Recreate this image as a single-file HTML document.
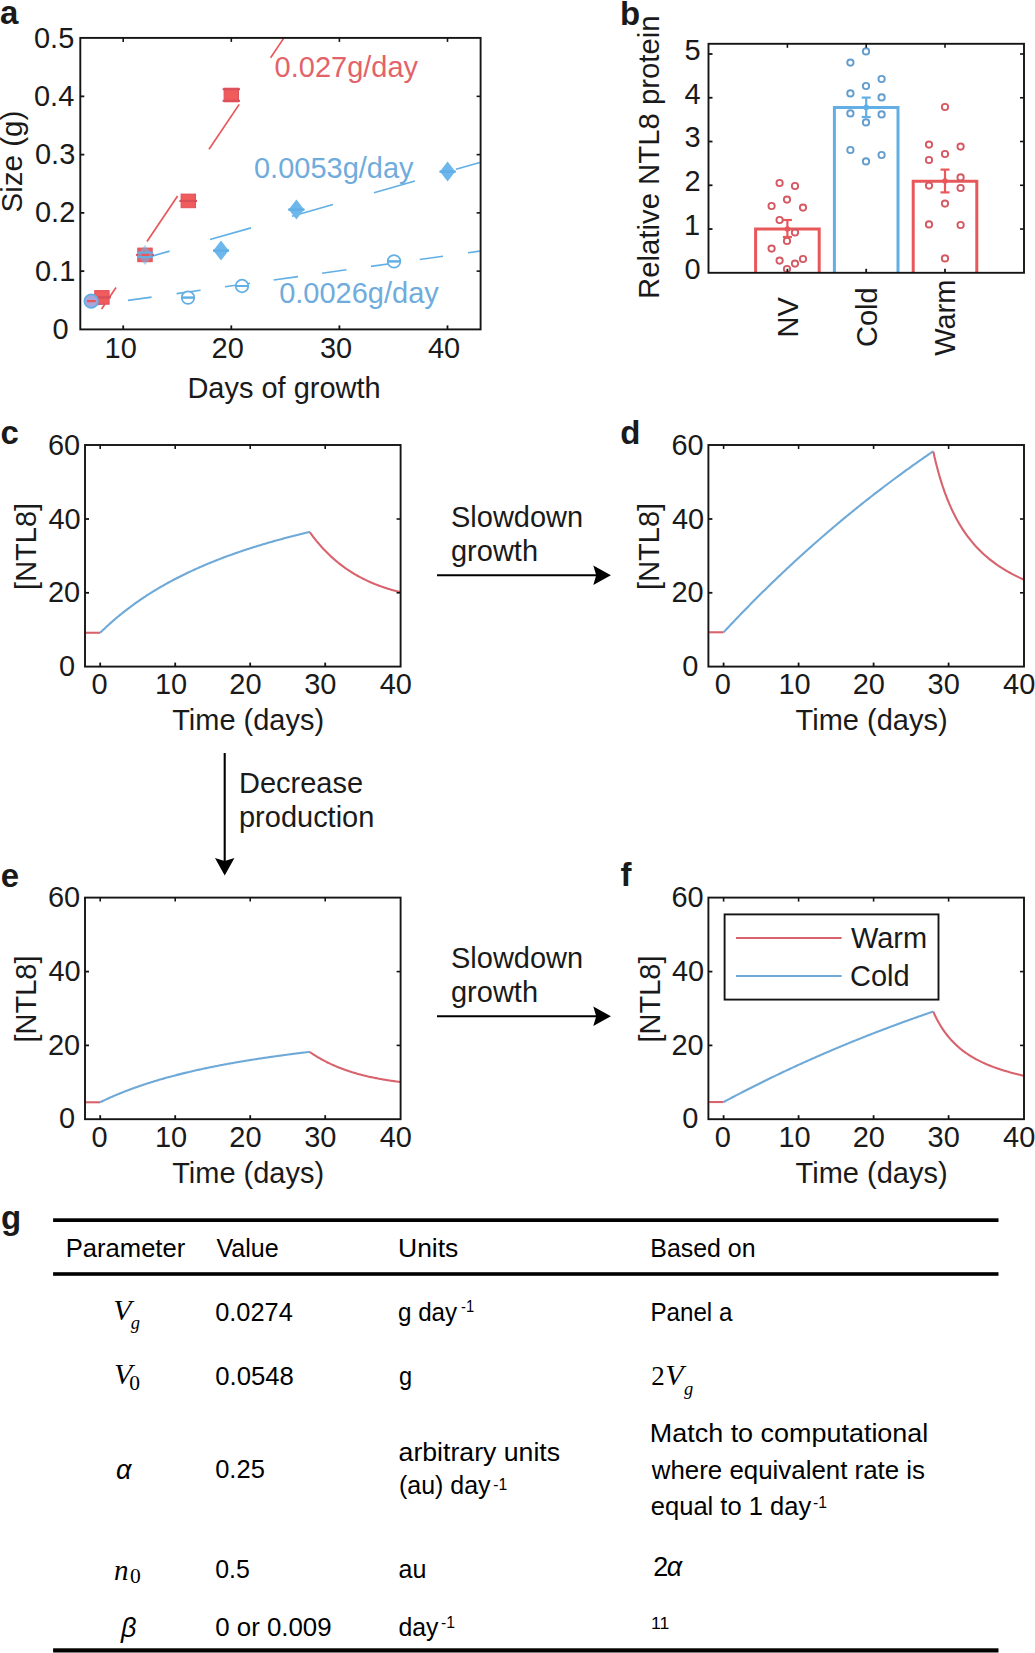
<!DOCTYPE html>
<html><head><meta charset="utf-8"><style>
html,body{margin:0;padding:0;background:#fff;}
body{width:1035px;height:1653px;overflow:hidden;font-family:"Liberation Sans",sans-serif;}
svg{display:block;position:absolute;left:0;top:0;}
</style></head><body>
<svg width="1035" height="1653" viewBox="0 0 1035 1653">
<rect x="0" y="0" width="1035" height="1653" fill="#fff"/>
<line x1="101.60" y1="308.97" x2="116.00" y2="287.56" stroke="#E8585B" stroke-width="1.7" />
<line x1="147.00" y1="241.47" x2="177.60" y2="195.97" stroke="#E8585B" stroke-width="1.7" />
<line x1="209.00" y1="149.28" x2="239.20" y2="104.37" stroke="#E8585B" stroke-width="1.7" />
<line x1="270.60" y1="57.68" x2="283.91" y2="37.90" stroke="#E8585B" stroke-width="1.7" />
<line x1="145.00" y1="258.16" x2="169.60" y2="251.14" stroke="#62AFE6" stroke-width="1.6" />
<line x1="210.00" y1="239.60" x2="251.00" y2="227.89" stroke="#62AFE6" stroke-width="1.6" />
<line x1="292.00" y1="216.18" x2="333.00" y2="204.47" stroke="#62AFE6" stroke-width="1.6" />
<line x1="374.00" y1="192.76" x2="415.00" y2="181.05" stroke="#62AFE6" stroke-width="1.6" />
<line x1="456.00" y1="169.34" x2="479.80" y2="162.55" stroke="#62AFE6" stroke-width="1.6" />
<line x1="91.00" y1="305.58" x2="103.60" y2="303.82" stroke="#62AFE6" stroke-width="1.6" />
<line x1="128.00" y1="300.40" x2="151.60" y2="297.10" stroke="#62AFE6" stroke-width="1.6" />
<line x1="176.60" y1="293.60" x2="200.60" y2="290.24" stroke="#62AFE6" stroke-width="1.6" />
<line x1="225.00" y1="286.82" x2="250.00" y2="283.32" stroke="#62AFE6" stroke-width="1.6" />
<line x1="273.60" y1="280.02" x2="298.00" y2="276.60" stroke="#62AFE6" stroke-width="1.6" />
<line x1="322.00" y1="273.24" x2="346.40" y2="269.82" stroke="#62AFE6" stroke-width="1.6" />
<line x1="371.00" y1="266.38" x2="395.00" y2="263.02" stroke="#62AFE6" stroke-width="1.6" />
<line x1="419.70" y1="259.56" x2="443.00" y2="256.30" stroke="#62AFE6" stroke-width="1.6" />
<line x1="468.00" y1="252.80" x2="479.80" y2="251.15" stroke="#62AFE6" stroke-width="1.6" />
<path d="M221.00,240.60 L228.70,250.60 L221.00,260.60 L213.30,250.60 Z" stroke="none" stroke-width="1.5" fill="#6DB7EC" fill-opacity="1.0"/>
<line x1="213.00" y1="250.60" x2="229.00" y2="250.60" stroke="#62AFE6" stroke-width="2.0" />
<line x1="213.00" y1="250.60" x2="229.00" y2="250.60" stroke="#62AFE6" stroke-width="2.0" />
<path d="M296.40,199.60 L304.10,209.60 L296.40,219.60 L288.70,209.60 Z" stroke="none" stroke-width="1.5" fill="#6DB7EC" fill-opacity="1.0"/>
<line x1="288.40" y1="209.60" x2="304.40" y2="209.60" stroke="#62AFE6" stroke-width="2.0" />
<line x1="288.40" y1="209.60" x2="304.40" y2="209.60" stroke="#62AFE6" stroke-width="2.0" />
<path d="M447.60,161.60 L455.30,171.60 L447.60,181.60 L439.90,171.60 Z" stroke="none" stroke-width="1.5" fill="#6DB7EC" fill-opacity="1.0"/>
<line x1="439.60" y1="171.60" x2="455.60" y2="171.60" stroke="#62AFE6" stroke-width="2.0" />
<line x1="439.60" y1="171.60" x2="455.60" y2="171.60" stroke="#62AFE6" stroke-width="2.0" />
<circle cx="188.00" cy="297.60" r="6.30" fill="#fff" stroke="#62AFE6" stroke-width="1.7" />
<line x1="182.00" y1="297.60" x2="194.00" y2="297.60" stroke="#62AFE6" stroke-width="2.0" />
<line x1="182.00" y1="297.60" x2="194.00" y2="297.60" stroke="#62AFE6" stroke-width="2.0" />
<circle cx="242.00" cy="286.00" r="6.30" fill="#fff" stroke="#62AFE6" stroke-width="1.7" />
<line x1="236.00" y1="286.00" x2="248.00" y2="286.00" stroke="#62AFE6" stroke-width="2.0" />
<line x1="236.00" y1="286.00" x2="248.00" y2="286.00" stroke="#62AFE6" stroke-width="2.0" />
<circle cx="394.00" cy="261.40" r="6.30" fill="#fff" stroke="#62AFE6" stroke-width="1.7" />
<line x1="388.00" y1="261.40" x2="400.00" y2="261.40" stroke="#62AFE6" stroke-width="2.0" />
<line x1="388.00" y1="261.40" x2="400.00" y2="261.40" stroke="#62AFE6" stroke-width="2.0" />
<rect x="94.70" y="290.60" width="14.40" height="13.60" fill="#F05B5B" stroke="#E0505A" stroke-width="1.0" />
<line x1="93.20" y1="297.40" x2="110.60" y2="297.40" stroke="#D9505A" stroke-width="2.0" />
<line x1="93.20" y1="297.40" x2="110.60" y2="297.40" stroke="#D9505A" stroke-width="2.0" />
<rect x="181.10" y="194.10" width="14.40" height="13.60" fill="#F05B5B" stroke="#E0505A" stroke-width="1.0" />
<line x1="179.60" y1="200.90" x2="197.00" y2="200.90" stroke="#D9505A" stroke-width="2.0" />
<line x1="179.60" y1="200.90" x2="197.00" y2="200.90" stroke="#D9505A" stroke-width="2.0" />
<line x1="231.30" y1="89.20" x2="231.30" y2="100.80" stroke="#D9505A" stroke-width="1.5" />
<rect x="224.10" y="88.20" width="14.40" height="13.60" fill="#F05B5B" stroke="#E0505A" stroke-width="1.0" />
<line x1="222.60" y1="89.20" x2="240.00" y2="89.20" stroke="#D9505A" stroke-width="2.0" />
<line x1="222.60" y1="100.80" x2="240.00" y2="100.80" stroke="#D9505A" stroke-width="2.0" />
<rect x="137.80" y="248.10" width="14.40" height="13.60" fill="#F05B5B" stroke="#E0505A" stroke-width="1.0" />
<line x1="136.30" y1="254.90" x2="153.70" y2="254.90" stroke="#D9505A" stroke-width="2.0" />
<line x1="136.30" y1="254.90" x2="153.70" y2="254.90" stroke="#D9505A" stroke-width="2.0" />
<path d="M145.00,244.90 L152.70,254.90 L145.00,264.90 L137.30,254.90 Z" stroke="none" stroke-width="1.5" fill="#6DB7EC" fill-opacity="0.55"/>
<line x1="137.00" y1="252.60" x2="153.00" y2="252.60" stroke="#62AFE6" stroke-width="2.0" />
<line x1="137.00" y1="257.20" x2="153.00" y2="257.20" stroke="#62AFE6" stroke-width="2.0" />
<line x1="141.60" y1="254.90" x2="149.00" y2="254.90" stroke="#E8585B" stroke-width="2.2" />
<circle cx="91.20" cy="301.10" r="6.80" fill="#A9A6DA" stroke="#62AFE6" stroke-width="1.8" />
<line x1="87.00" y1="301.10" x2="95.80" y2="301.10" stroke="#E8585B" stroke-width="2.2" />
<rect x="80.30" y="37.90" width="400.30" height="291.50" fill="none" stroke="#141414" stroke-width="1.9" />
<line x1="123.20" y1="329.40" x2="123.20" y2="325.40" stroke="#141414" stroke-width="1.8" />
<line x1="123.20" y1="37.90" x2="123.20" y2="41.90" stroke="#141414" stroke-width="1.6" />
<line x1="231.30" y1="329.40" x2="231.30" y2="325.40" stroke="#141414" stroke-width="1.8" />
<line x1="231.30" y1="37.90" x2="231.30" y2="41.90" stroke="#141414" stroke-width="1.6" />
<line x1="339.40" y1="329.40" x2="339.40" y2="325.40" stroke="#141414" stroke-width="1.8" />
<line x1="339.40" y1="37.90" x2="339.40" y2="41.90" stroke="#141414" stroke-width="1.6" />
<line x1="447.50" y1="329.40" x2="447.50" y2="325.40" stroke="#141414" stroke-width="1.8" />
<line x1="447.50" y1="37.90" x2="447.50" y2="41.90" stroke="#141414" stroke-width="1.6" />
<line x1="80.30" y1="271.14" x2="84.30" y2="271.14" stroke="#141414" stroke-width="1.8" />
<line x1="480.60" y1="271.14" x2="476.60" y2="271.14" stroke="#141414" stroke-width="1.6" />
<line x1="80.30" y1="212.88" x2="84.30" y2="212.88" stroke="#141414" stroke-width="1.8" />
<line x1="480.60" y1="212.88" x2="476.60" y2="212.88" stroke="#141414" stroke-width="1.6" />
<line x1="80.30" y1="154.62" x2="84.30" y2="154.62" stroke="#141414" stroke-width="1.8" />
<line x1="480.60" y1="154.62" x2="476.60" y2="154.62" stroke="#141414" stroke-width="1.6" />
<line x1="80.30" y1="96.36" x2="84.30" y2="96.36" stroke="#141414" stroke-width="1.8" />
<line x1="480.60" y1="96.36" x2="476.60" y2="96.36" stroke="#141414" stroke-width="1.6" />
<path d="M755.60,272.80 L755.60,229.04 L819.20,229.04 L819.20,272.80" stroke="#E8585B" stroke-width="3.0" fill="none" stroke-linejoin="miter"/>
<path d="M834.40,272.80 L834.40,107.61 L898.00,107.61 L898.00,272.80" stroke="#62AFE6" stroke-width="3.0" fill="none" stroke-linejoin="miter"/>
<path d="M913.20,272.80 L913.20,181.34 L976.80,181.34 L976.80,272.80" stroke="#E8585B" stroke-width="3.0" fill="none" stroke-linejoin="miter"/>
<circle cx="779.60" cy="183.00" r="3.15" fill="none" stroke="#D55963" stroke-width="1.9" />
<circle cx="795.00" cy="186.00" r="3.15" fill="none" stroke="#D55963" stroke-width="1.9" />
<circle cx="787.00" cy="199.60" r="3.15" fill="none" stroke="#D55963" stroke-width="1.9" />
<circle cx="771.60" cy="206.00" r="3.15" fill="none" stroke="#D55963" stroke-width="1.9" />
<circle cx="803.00" cy="207.60" r="3.15" fill="none" stroke="#D55963" stroke-width="1.9" />
<circle cx="779.60" cy="220.00" r="3.15" fill="none" stroke="#D55963" stroke-width="1.9" />
<circle cx="795.00" cy="232.40" r="3.15" fill="none" stroke="#D55963" stroke-width="1.9" />
<circle cx="787.00" cy="241.00" r="3.15" fill="none" stroke="#D55963" stroke-width="1.9" />
<circle cx="771.60" cy="248.60" r="3.15" fill="none" stroke="#D55963" stroke-width="1.9" />
<circle cx="779.60" cy="260.60" r="3.15" fill="none" stroke="#D55963" stroke-width="1.9" />
<circle cx="795.00" cy="263.60" r="3.15" fill="none" stroke="#D55963" stroke-width="1.9" />
<circle cx="803.00" cy="259.00" r="3.15" fill="none" stroke="#D55963" stroke-width="1.9" />
<circle cx="787.00" cy="269.00" r="3.15" fill="none" stroke="#D55963" stroke-width="1.9" />
<circle cx="945.00" cy="107.00" r="3.15" fill="none" stroke="#D55963" stroke-width="1.9" />
<circle cx="929.00" cy="144.60" r="3.15" fill="none" stroke="#D55963" stroke-width="1.9" />
<circle cx="960.60" cy="146.60" r="3.15" fill="none" stroke="#D55963" stroke-width="1.9" />
<circle cx="945.00" cy="154.00" r="3.15" fill="none" stroke="#D55963" stroke-width="1.9" />
<circle cx="929.00" cy="160.00" r="3.15" fill="none" stroke="#D55963" stroke-width="1.9" />
<circle cx="960.60" cy="177.40" r="3.15" fill="none" stroke="#D55963" stroke-width="1.9" />
<circle cx="929.00" cy="185.60" r="3.15" fill="none" stroke="#D55963" stroke-width="1.9" />
<circle cx="960.60" cy="188.00" r="3.15" fill="none" stroke="#D55963" stroke-width="1.9" />
<circle cx="945.00" cy="203.60" r="3.15" fill="none" stroke="#D55963" stroke-width="1.9" />
<circle cx="929.00" cy="224.40" r="3.15" fill="none" stroke="#D55963" stroke-width="1.9" />
<circle cx="960.60" cy="225.00" r="3.15" fill="none" stroke="#D55963" stroke-width="1.9" />
<circle cx="945.00" cy="258.40" r="3.15" fill="none" stroke="#D55963" stroke-width="1.9" />
<circle cx="866.00" cy="51.40" r="3.15" fill="none" stroke="#639DCD" stroke-width="1.9" />
<circle cx="850.40" cy="62.60" r="3.15" fill="none" stroke="#639DCD" stroke-width="1.9" />
<circle cx="881.60" cy="79.00" r="3.15" fill="none" stroke="#639DCD" stroke-width="1.9" />
<circle cx="866.00" cy="86.00" r="3.15" fill="none" stroke="#639DCD" stroke-width="1.9" />
<circle cx="850.40" cy="93.40" r="3.15" fill="none" stroke="#639DCD" stroke-width="1.9" />
<circle cx="881.60" cy="97.40" r="3.15" fill="none" stroke="#639DCD" stroke-width="1.9" />
<circle cx="850.40" cy="113.40" r="3.15" fill="none" stroke="#639DCD" stroke-width="1.9" />
<circle cx="881.60" cy="114.40" r="3.15" fill="none" stroke="#639DCD" stroke-width="1.9" />
<circle cx="866.00" cy="122.40" r="3.15" fill="none" stroke="#639DCD" stroke-width="1.9" />
<circle cx="850.40" cy="150.00" r="3.15" fill="none" stroke="#639DCD" stroke-width="1.9" />
<circle cx="881.60" cy="155.00" r="3.15" fill="none" stroke="#639DCD" stroke-width="1.9" />
<circle cx="866.00" cy="161.40" r="3.15" fill="none" stroke="#639DCD" stroke-width="1.9" />
<line x1="787.40" y1="220.00" x2="787.40" y2="237.00" stroke="#E8585B" stroke-width="2.2" />
<line x1="782.90" y1="220.00" x2="791.90" y2="220.00" stroke="#E8585B" stroke-width="2.2" />
<line x1="782.90" y1="237.00" x2="791.90" y2="237.00" stroke="#E8585B" stroke-width="2.2" />
<circle cx="787.40" cy="229.00" r="2.80" fill="#E8585B" stroke="none" stroke-width="1.5" />
<line x1="866.20" y1="97.60" x2="866.20" y2="117.00" stroke="#62AFE6" stroke-width="2.2" />
<line x1="861.70" y1="97.60" x2="870.70" y2="97.60" stroke="#62AFE6" stroke-width="2.2" />
<line x1="861.70" y1="117.00" x2="870.70" y2="117.00" stroke="#62AFE6" stroke-width="2.2" />
<circle cx="866.20" cy="107.40" r="2.80" fill="#62AFE6" stroke="none" stroke-width="1.5" />
<line x1="945.00" y1="169.60" x2="945.00" y2="192.40" stroke="#E8585B" stroke-width="2.2" />
<line x1="940.50" y1="169.60" x2="949.50" y2="169.60" stroke="#E8585B" stroke-width="2.2" />
<line x1="940.50" y1="192.40" x2="949.50" y2="192.40" stroke="#E8585B" stroke-width="2.2" />
<circle cx="945.00" cy="181.00" r="2.80" fill="#E8585B" stroke="none" stroke-width="1.5" />
<rect x="708.50" y="43.80" width="315.50" height="229.00" fill="none" stroke="#141414" stroke-width="1.9" />
<line x1="787.40" y1="272.80" x2="787.40" y2="268.80" stroke="#141414" stroke-width="1.8" />
<line x1="787.40" y1="43.80" x2="787.40" y2="47.80" stroke="#141414" stroke-width="1.6" />
<line x1="866.20" y1="272.80" x2="866.20" y2="268.80" stroke="#141414" stroke-width="1.8" />
<line x1="866.20" y1="43.80" x2="866.20" y2="47.80" stroke="#141414" stroke-width="1.6" />
<line x1="945.00" y1="272.80" x2="945.00" y2="268.80" stroke="#141414" stroke-width="1.8" />
<line x1="945.00" y1="43.80" x2="945.00" y2="47.80" stroke="#141414" stroke-width="1.6" />
<line x1="708.50" y1="229.04" x2="712.50" y2="229.04" stroke="#141414" stroke-width="1.8" />
<line x1="1024.00" y1="229.04" x2="1020.00" y2="229.04" stroke="#141414" stroke-width="1.6" />
<line x1="708.50" y1="185.28" x2="712.50" y2="185.28" stroke="#141414" stroke-width="1.8" />
<line x1="1024.00" y1="185.28" x2="1020.00" y2="185.28" stroke="#141414" stroke-width="1.6" />
<line x1="708.50" y1="141.52" x2="712.50" y2="141.52" stroke="#141414" stroke-width="1.8" />
<line x1="1024.00" y1="141.52" x2="1020.00" y2="141.52" stroke="#141414" stroke-width="1.6" />
<line x1="708.50" y1="97.76" x2="712.50" y2="97.76" stroke="#141414" stroke-width="1.8" />
<line x1="1024.00" y1="97.76" x2="1020.00" y2="97.76" stroke="#141414" stroke-width="1.6" />
<line x1="708.50" y1="54.00" x2="712.50" y2="54.00" stroke="#141414" stroke-width="1.8" />
<line x1="1024.00" y1="54.00" x2="1020.00" y2="54.00" stroke="#141414" stroke-width="1.6" />
<line x1="85.80" y1="632.76" x2="100.20" y2="632.76" stroke="#D8636D" stroke-width="2.1" />
<path d="M100.20,632.76 L101.20,631.78 L102.20,630.81 L103.20,629.85 L104.20,628.89 L105.20,627.95 L106.20,627.02 L107.20,626.09 L108.20,625.18 L109.20,624.27 L110.20,623.37 L111.20,622.48 L112.20,621.60 L113.20,620.72 L114.20,619.86 L115.20,619.00 L116.20,618.15 L117.20,617.31 L118.20,616.48 L119.20,615.65 L120.20,614.83 L121.20,614.02 L122.20,613.22 L123.20,612.42 L124.20,611.63 L125.20,610.85 L126.20,610.07 L127.20,609.30 L128.20,608.54 L129.20,607.79 L130.20,607.04 L131.20,606.30 L132.20,605.56 L133.20,604.83 L134.20,604.11 L135.20,603.39 L136.20,602.68 L137.20,601.98 L138.20,601.28 L139.20,600.58 L140.20,599.90 L141.20,599.22 L142.20,598.54 L143.20,597.87 L144.20,597.20 L145.20,596.55 L146.20,595.89 L147.20,595.24 L148.20,594.60 L149.20,593.96 L150.20,593.33 L151.20,592.70 L152.20,592.08 L153.20,591.46 L154.20,590.85 L155.20,590.24 L156.20,589.63 L157.20,589.03 L158.20,588.44 L159.20,587.85 L160.20,587.26 L161.20,586.68 L162.20,586.11 L163.20,585.54 L164.20,584.97 L165.20,584.41 L166.20,583.85 L167.20,583.29 L168.20,582.74 L169.20,582.19 L170.20,581.65 L171.20,581.11 L172.20,580.58 L173.20,580.05 L174.20,579.52 L175.20,579.00 L176.20,578.48 L177.20,577.96 L178.20,577.45 L179.20,576.94 L180.20,576.44 L181.20,575.94 L182.20,575.44 L183.20,574.95 L184.20,574.46 L185.20,573.97 L186.20,573.49 L187.20,573.01 L188.20,572.53 L189.20,572.06 L190.20,571.59 L191.20,571.12 L192.20,570.66 L193.20,570.20 L194.20,569.74 L195.20,569.29 L196.20,568.84 L197.20,568.39 L198.20,567.94 L199.20,567.50 L200.20,567.06 L201.20,566.63 L202.20,566.19 L203.20,565.76 L204.20,565.34 L205.20,564.91 L206.20,564.49 L207.20,564.07 L208.20,563.65 L209.20,563.24 L210.20,562.83 L211.20,562.42 L212.20,562.01 L213.20,561.61 L214.20,561.21 L215.20,560.81 L216.20,560.42 L217.20,560.02 L218.20,559.63 L219.20,559.24 L220.20,558.86 L221.20,558.48 L222.20,558.09 L223.20,557.72 L224.20,557.34 L225.20,556.97 L226.20,556.59 L227.20,556.22 L228.20,555.86 L229.20,555.49 L230.20,555.13 L231.20,554.77 L232.20,554.41 L233.20,554.06 L234.20,553.70 L235.20,553.35 L236.20,553.00 L237.20,552.65 L238.20,552.31 L239.20,551.96 L240.20,551.62 L241.20,551.28 L242.20,550.94 L243.20,550.61 L244.20,550.28 L245.20,549.94 L246.20,549.61 L247.20,549.29 L248.20,548.96 L249.20,548.64 L250.20,548.31 L251.20,547.99 L252.20,547.67 L253.20,547.36 L254.20,547.04 L255.20,546.73 L256.20,546.42 L257.20,546.11 L258.20,545.80 L259.20,545.49 L260.20,545.19 L261.20,544.89 L262.20,544.59 L263.20,544.29 L264.20,543.99 L265.20,543.69 L266.20,543.40 L267.20,543.10 L268.20,542.81 L269.20,542.52 L270.20,542.24 L271.20,541.95 L272.20,541.66 L273.20,541.38 L274.20,541.10 L275.20,540.82 L276.20,540.54 L277.20,540.26 L278.20,539.98 L279.20,539.71 L280.20,539.44 L281.20,539.16 L282.20,538.89 L283.20,538.63 L284.20,538.36 L285.20,538.09 L286.20,537.83 L287.20,537.56 L288.20,537.30 L289.20,537.04 L290.20,536.78 L291.20,536.52 L292.20,536.27 L293.20,536.01 L294.20,535.76 L295.20,535.50 L296.20,535.25 L297.20,535.00 L298.20,534.75 L299.20,534.51 L300.20,534.26 L301.20,534.01 L302.20,533.77 L303.20,533.53 L304.20,533.28 L305.20,533.04 L306.20,532.81 L307.20,532.57 L308.20,532.33 L309.20,532.09 L310.00,532.20" stroke="#6FA9D8" stroke-width="2.1" fill="none" stroke-linejoin="round" stroke-linecap="butt"/>
<path d="M310.00,532.20 L311.00,533.86 L312.00,535.21 L313.00,536.53 L314.00,537.82 L315.00,539.09 L316.00,540.34 L317.00,541.56 L318.00,542.76 L319.00,543.94 L320.00,545.09 L321.00,546.23 L322.00,547.34 L323.00,548.43 L324.00,549.50 L325.00,550.55 L326.00,551.58 L327.00,552.59 L328.00,553.58 L329.00,554.55 L330.00,555.51 L331.00,556.45 L332.00,557.37 L333.00,558.27 L334.00,559.15 L335.00,560.02 L336.00,560.87 L337.00,561.71 L338.00,562.53 L339.00,563.33 L340.00,564.12 L341.00,564.90 L342.00,565.66 L343.00,566.40 L344.00,567.13 L345.00,567.85 L346.00,568.56 L347.00,569.25 L348.00,569.92 L349.00,570.59 L350.00,571.24 L351.00,571.88 L352.00,572.51 L353.00,573.13 L354.00,573.73 L355.00,574.32 L356.00,574.91 L357.00,575.48 L358.00,576.04 L359.00,576.59 L360.00,577.13 L361.00,577.66 L362.00,578.18 L363.00,578.69 L364.00,579.18 L365.00,579.68 L366.00,580.16 L367.00,580.63 L368.00,581.09 L369.00,581.55 L370.00,581.99 L371.00,582.43 L372.00,582.86 L373.00,583.28 L374.00,583.69 L375.00,584.10 L376.00,584.50 L377.00,584.89 L378.00,585.27 L379.00,585.65 L380.00,586.01 L381.00,586.38 L382.00,586.73 L383.00,587.08 L384.00,587.42 L385.00,587.76 L386.00,588.08 L387.00,588.41 L388.00,588.72 L389.00,589.03 L390.00,589.34 L391.00,589.64 L392.00,589.93 L393.00,590.22 L394.00,590.50 L395.00,590.78 L396.00,591.05 L397.00,591.32 L398.00,591.58 L399.00,591.84 L400.00,592.09 L400.60,592.24" stroke="#D8636D" stroke-width="2.1" fill="none" stroke-linejoin="round" stroke-linecap="butt"/>
<rect x="85.00" y="445.00" width="315.60" height="221.60" fill="none" stroke="#141414" stroke-width="1.9" />
<line x1="100.20" y1="666.60" x2="100.20" y2="662.60" stroke="#141414" stroke-width="1.8" />
<line x1="100.20" y1="445.00" x2="100.20" y2="449.00" stroke="#141414" stroke-width="1.6" />
<line x1="175.20" y1="666.60" x2="175.20" y2="662.60" stroke="#141414" stroke-width="1.8" />
<line x1="175.20" y1="445.00" x2="175.20" y2="449.00" stroke="#141414" stroke-width="1.6" />
<line x1="250.20" y1="666.60" x2="250.20" y2="662.60" stroke="#141414" stroke-width="1.8" />
<line x1="250.20" y1="445.00" x2="250.20" y2="449.00" stroke="#141414" stroke-width="1.6" />
<line x1="325.20" y1="666.60" x2="325.20" y2="662.60" stroke="#141414" stroke-width="1.8" />
<line x1="325.20" y1="445.00" x2="325.20" y2="449.00" stroke="#141414" stroke-width="1.6" />
<line x1="85.00" y1="592.80" x2="89.00" y2="592.80" stroke="#141414" stroke-width="1.8" />
<line x1="400.60" y1="592.80" x2="396.60" y2="592.80" stroke="#141414" stroke-width="1.6" />
<line x1="85.00" y1="519.00" x2="89.00" y2="519.00" stroke="#141414" stroke-width="1.8" />
<line x1="400.60" y1="519.00" x2="396.60" y2="519.00" stroke="#141414" stroke-width="1.6" />
<line x1="709.20" y1="632.28" x2="723.60" y2="632.28" stroke="#D8636D" stroke-width="2.1" />
<path d="M723.60,632.28 L724.60,631.21 L725.60,630.14 L726.60,629.07 L727.60,628.01 L728.60,626.94 L729.60,625.88 L730.60,624.82 L731.60,623.76 L732.60,622.71 L733.60,621.66 L734.60,620.61 L735.60,619.56 L736.60,618.51 L737.60,617.47 L738.60,616.43 L739.60,615.39 L740.60,614.35 L741.60,613.32 L742.60,612.29 L743.60,611.26 L744.60,610.23 L745.60,609.20 L746.60,608.18 L747.60,607.16 L748.60,606.14 L749.60,605.12 L750.60,604.11 L751.60,603.10 L752.60,602.09 L753.60,601.08 L754.60,600.07 L755.60,599.07 L756.60,598.07 L757.60,597.07 L758.60,596.07 L759.60,595.08 L760.60,594.09 L761.60,593.10 L762.60,592.11 L763.60,591.12 L764.60,590.14 L765.60,589.16 L766.60,588.18 L767.60,587.20 L768.60,586.22 L769.60,585.25 L770.60,584.28 L771.60,583.31 L772.60,582.34 L773.60,581.38 L774.60,580.41 L775.60,579.45 L776.60,578.49 L777.60,577.54 L778.60,576.58 L779.60,575.63 L780.60,574.68 L781.60,573.73 L782.60,572.78 L783.60,571.84 L784.60,570.90 L785.60,569.96 L786.60,569.02 L787.60,568.08 L788.60,567.15 L789.60,566.22 L790.60,565.29 L791.60,564.36 L792.60,563.43 L793.60,562.51 L794.60,561.58 L795.60,560.66 L796.60,559.75 L797.60,558.83 L798.60,557.92 L799.60,557.00 L800.60,556.09 L801.60,555.19 L802.60,554.28 L803.60,553.37 L804.60,552.47 L805.60,551.57 L806.60,550.67 L807.60,549.78 L808.60,548.88 L809.60,547.99 L810.60,547.10 L811.60,546.21 L812.60,545.32 L813.60,544.44 L814.60,543.55 L815.60,542.67 L816.60,541.79 L817.60,540.92 L818.60,540.04 L819.60,539.17 L820.60,538.30 L821.60,537.43 L822.60,536.56 L823.60,535.69 L824.60,534.83 L825.60,533.97 L826.60,533.11 L827.60,532.25 L828.60,531.39 L829.60,530.54 L830.60,529.68 L831.60,528.83 L832.60,527.98 L833.60,527.13 L834.60,526.29 L835.60,525.45 L836.60,524.60 L837.60,523.76 L838.60,522.92 L839.60,522.09 L840.60,521.25 L841.60,520.42 L842.60,519.59 L843.60,518.76 L844.60,517.93 L845.60,517.11 L846.60,516.28 L847.60,515.46 L848.60,514.64 L849.60,513.82 L850.60,513.01 L851.60,512.19 L852.60,511.38 L853.60,510.57 L854.60,509.76 L855.60,508.95 L856.60,508.14 L857.60,507.34 L858.60,506.53 L859.60,505.73 L860.60,504.93 L861.60,504.14 L862.60,503.34 L863.60,502.55 L864.60,501.75 L865.60,500.96 L866.60,500.17 L867.60,499.39 L868.60,498.60 L869.60,497.82 L870.60,497.03 L871.60,496.25 L872.60,495.48 L873.60,494.70 L874.60,493.92 L875.60,493.15 L876.60,492.38 L877.60,491.61 L878.60,490.84 L879.60,490.07 L880.60,489.30 L881.60,488.54 L882.60,487.78 L883.60,487.02 L884.60,486.26 L885.60,485.50 L886.60,484.75 L887.60,483.99 L888.60,483.24 L889.60,482.49 L890.60,481.74 L891.60,480.99 L892.60,480.25 L893.60,479.50 L894.60,478.76 L895.60,478.02 L896.60,477.28 L897.60,476.54 L898.60,475.81 L899.60,475.07 L900.60,474.34 L901.60,473.61 L902.60,472.88 L903.60,472.15 L904.60,471.42 L905.60,470.70 L906.60,469.97 L907.60,469.25 L908.60,468.53 L909.60,467.81 L910.60,467.10 L911.60,466.38 L912.60,465.67 L913.60,464.95 L914.60,464.24 L915.60,463.53 L916.60,462.82 L917.60,462.12 L918.60,461.41 L919.60,460.71 L920.60,460.01 L921.60,459.31 L922.60,458.61 L923.60,457.91 L924.60,457.21 L925.60,456.52 L926.60,455.83 L927.60,455.14 L928.60,454.45 L929.60,453.76 L930.60,453.07 L931.60,452.39 L932.60,451.70 L933.40,451.66" stroke="#6FA9D8" stroke-width="2.1" fill="none" stroke-linejoin="round" stroke-linecap="butt"/>
<path d="M933.40,451.66 L934.40,456.57 L935.40,460.76 L936.40,464.77 L937.40,468.60 L938.40,472.26 L939.40,475.77 L940.40,479.13 L941.40,482.35 L942.40,485.45 L943.40,488.42 L944.40,491.29 L945.40,494.04 L946.40,496.69 L947.40,499.25 L948.40,501.71 L949.40,504.09 L950.40,506.39 L951.40,508.60 L952.40,510.75 L953.40,512.82 L954.40,514.83 L955.40,516.78 L956.40,518.66 L957.40,520.49 L958.40,522.26 L959.40,523.98 L960.40,525.64 L961.40,527.26 L962.40,528.84 L963.40,530.37 L964.40,531.85 L965.40,533.30 L966.40,534.71 L967.40,536.08 L968.40,537.41 L969.40,538.71 L970.40,539.97 L971.40,541.21 L972.40,542.41 L973.40,543.59 L974.40,544.73 L975.40,545.85 L976.40,546.94 L977.40,548.00 L978.40,549.04 L979.40,550.06 L980.40,551.05 L981.40,552.03 L982.40,552.98 L983.40,553.90 L984.40,554.81 L985.40,555.70 L986.40,556.57 L987.40,557.42 L988.40,558.26 L989.40,559.08 L990.40,559.88 L991.40,560.66 L992.40,561.43 L993.40,562.18 L994.40,562.92 L995.40,563.65 L996.40,564.36 L997.40,565.05 L998.40,565.74 L999.40,566.41 L1000.40,567.07 L1001.40,567.71 L1002.40,568.35 L1003.40,568.97 L1004.40,569.58 L1005.40,570.19 L1006.40,570.78 L1007.40,571.36 L1008.40,571.93 L1009.40,572.49 L1010.40,573.04 L1011.40,573.58 L1012.40,574.12 L1013.40,574.64 L1014.40,575.16 L1015.40,575.66 L1016.40,576.16 L1017.40,576.65 L1018.40,577.14 L1019.40,577.61 L1020.40,578.08 L1021.40,578.54 L1022.40,579.00 L1023.40,579.44 L1023.90,579.67" stroke="#D8636D" stroke-width="2.1" fill="none" stroke-linejoin="round" stroke-linecap="butt"/>
<rect x="708.40" y="445.00" width="315.60" height="221.60" fill="none" stroke="#141414" stroke-width="1.9" />
<line x1="723.60" y1="666.60" x2="723.60" y2="662.60" stroke="#141414" stroke-width="1.8" />
<line x1="723.60" y1="445.00" x2="723.60" y2="449.00" stroke="#141414" stroke-width="1.6" />
<line x1="798.60" y1="666.60" x2="798.60" y2="662.60" stroke="#141414" stroke-width="1.8" />
<line x1="798.60" y1="445.00" x2="798.60" y2="449.00" stroke="#141414" stroke-width="1.6" />
<line x1="873.60" y1="666.60" x2="873.60" y2="662.60" stroke="#141414" stroke-width="1.8" />
<line x1="873.60" y1="445.00" x2="873.60" y2="449.00" stroke="#141414" stroke-width="1.6" />
<line x1="948.60" y1="666.60" x2="948.60" y2="662.60" stroke="#141414" stroke-width="1.8" />
<line x1="948.60" y1="445.00" x2="948.60" y2="449.00" stroke="#141414" stroke-width="1.6" />
<line x1="708.40" y1="592.80" x2="712.40" y2="592.80" stroke="#141414" stroke-width="1.8" />
<line x1="1024.00" y1="592.80" x2="1020.00" y2="592.80" stroke="#141414" stroke-width="1.6" />
<line x1="708.40" y1="519.00" x2="712.40" y2="519.00" stroke="#141414" stroke-width="1.8" />
<line x1="1024.00" y1="519.00" x2="1020.00" y2="519.00" stroke="#141414" stroke-width="1.6" />
<line x1="85.80" y1="1102.28" x2="100.20" y2="1102.28" stroke="#D8636D" stroke-width="2.1" />
<path d="M100.20,1102.28 L101.20,1101.79 L102.20,1101.30 L103.20,1100.82 L104.20,1100.35 L105.20,1099.88 L106.20,1099.41 L107.20,1098.95 L108.20,1098.49 L109.20,1098.03 L110.20,1097.58 L111.20,1097.14 L112.20,1096.70 L113.20,1096.26 L114.20,1095.83 L115.20,1095.40 L116.20,1094.98 L117.20,1094.56 L118.20,1094.14 L119.20,1093.73 L120.20,1093.32 L121.20,1092.91 L122.20,1092.51 L123.20,1092.11 L124.20,1091.72 L125.20,1091.32 L126.20,1090.94 L127.20,1090.55 L128.20,1090.17 L129.20,1089.79 L130.20,1089.42 L131.20,1089.05 L132.20,1088.68 L133.20,1088.32 L134.20,1087.95 L135.20,1087.60 L136.20,1087.24 L137.20,1086.89 L138.20,1086.54 L139.20,1086.19 L140.20,1085.85 L141.20,1085.51 L142.20,1085.17 L143.20,1084.83 L144.20,1084.50 L145.20,1084.17 L146.20,1083.85 L147.20,1083.52 L148.20,1083.20 L149.20,1082.88 L150.20,1082.56 L151.20,1082.25 L152.20,1081.94 L153.20,1081.63 L154.20,1081.32 L155.20,1081.02 L156.20,1080.72 L157.20,1080.42 L158.20,1080.12 L159.20,1079.82 L160.20,1079.53 L161.20,1079.24 L162.20,1078.95 L163.20,1078.67 L164.20,1078.38 L165.20,1078.10 L166.20,1077.82 L167.20,1077.55 L168.20,1077.27 L169.20,1077.00 L170.20,1076.73 L171.20,1076.46 L172.20,1076.19 L173.20,1075.92 L174.20,1075.66 L175.20,1075.40 L176.20,1075.14 L177.20,1074.88 L178.20,1074.63 L179.20,1074.37 L180.20,1074.12 L181.20,1073.87 L182.20,1073.62 L183.20,1073.37 L184.20,1073.13 L185.20,1072.89 L186.20,1072.64 L187.20,1072.40 L188.20,1072.17 L189.20,1071.93 L190.20,1071.69 L191.20,1071.46 L192.20,1071.23 L193.20,1071.00 L194.20,1070.77 L195.20,1070.54 L196.20,1070.32 L197.20,1070.09 L198.20,1069.87 L199.20,1069.65 L200.20,1069.43 L201.20,1069.21 L202.20,1069.00 L203.20,1068.78 L204.20,1068.57 L205.20,1068.36 L206.20,1068.14 L207.20,1067.93 L208.20,1067.73 L209.20,1067.52 L210.20,1067.31 L211.20,1067.11 L212.20,1066.91 L213.20,1066.71 L214.20,1066.50 L215.20,1066.31 L216.20,1066.11 L217.20,1065.91 L218.20,1065.72 L219.20,1065.52 L220.20,1065.33 L221.20,1065.14 L222.20,1064.95 L223.20,1064.76 L224.20,1064.57 L225.20,1064.38 L226.20,1064.20 L227.20,1064.01 L228.20,1063.83 L229.20,1063.65 L230.20,1063.47 L231.20,1063.28 L232.20,1063.11 L233.20,1062.93 L234.20,1062.75 L235.20,1062.57 L236.20,1062.40 L237.20,1062.23 L238.20,1062.05 L239.20,1061.88 L240.20,1061.71 L241.20,1061.54 L242.20,1061.37 L243.20,1061.20 L244.20,1061.04 L245.20,1060.87 L246.20,1060.71 L247.20,1060.54 L248.20,1060.38 L249.20,1060.22 L250.20,1060.06 L251.20,1059.90 L252.20,1059.74 L253.20,1059.58 L254.20,1059.42 L255.20,1059.26 L256.20,1059.11 L257.20,1058.95 L258.20,1058.80 L259.20,1058.65 L260.20,1058.49 L261.20,1058.34 L262.20,1058.19 L263.20,1058.04 L264.20,1057.89 L265.20,1057.75 L266.20,1057.60 L267.20,1057.45 L268.20,1057.31 L269.20,1057.16 L270.20,1057.02 L271.20,1056.87 L272.20,1056.73 L273.20,1056.59 L274.20,1056.45 L275.20,1056.31 L276.20,1056.17 L277.20,1056.03 L278.20,1055.89 L279.20,1055.75 L280.20,1055.62 L281.20,1055.48 L282.20,1055.35 L283.20,1055.21 L284.20,1055.08 L285.20,1054.95 L286.20,1054.81 L287.20,1054.68 L288.20,1054.55 L289.20,1054.42 L290.20,1054.29 L291.20,1054.16 L292.20,1054.03 L293.20,1053.91 L294.20,1053.78 L295.20,1053.65 L296.20,1053.53 L297.20,1053.40 L298.20,1053.28 L299.20,1053.15 L300.20,1053.03 L301.20,1052.91 L302.20,1052.78 L303.20,1052.66 L304.20,1052.54 L305.20,1052.42 L306.20,1052.30 L307.20,1052.18 L308.20,1052.07 L309.20,1051.95 L310.00,1052.00" stroke="#6FA9D8" stroke-width="2.1" fill="none" stroke-linejoin="round" stroke-linecap="butt"/>
<path d="M310.00,1052.00 L311.00,1052.83 L312.00,1053.50 L313.00,1054.16 L314.00,1054.81 L315.00,1055.45 L316.00,1056.07 L317.00,1056.68 L318.00,1057.28 L319.00,1057.87 L320.00,1058.45 L321.00,1059.01 L322.00,1059.57 L323.00,1060.11 L324.00,1060.65 L325.00,1061.17 L326.00,1061.69 L327.00,1062.19 L328.00,1062.69 L329.00,1063.18 L330.00,1063.65 L331.00,1064.12 L332.00,1064.58 L333.00,1065.03 L334.00,1065.48 L335.00,1065.91 L336.00,1066.34 L337.00,1066.75 L338.00,1067.16 L339.00,1067.57 L340.00,1067.96 L341.00,1068.35 L342.00,1068.73 L343.00,1069.10 L344.00,1069.47 L345.00,1069.83 L346.00,1070.18 L347.00,1070.52 L348.00,1070.86 L349.00,1071.19 L350.00,1071.52 L351.00,1071.84 L352.00,1072.15 L353.00,1072.46 L354.00,1072.77 L355.00,1073.06 L356.00,1073.35 L357.00,1073.64 L358.00,1073.92 L359.00,1074.19 L360.00,1074.46 L361.00,1074.73 L362.00,1074.99 L363.00,1075.24 L364.00,1075.49 L365.00,1075.74 L366.00,1075.98 L367.00,1076.21 L368.00,1076.45 L369.00,1076.67 L370.00,1076.90 L371.00,1077.11 L372.00,1077.33 L373.00,1077.54 L374.00,1077.75 L375.00,1077.95 L376.00,1078.15 L377.00,1078.34 L378.00,1078.54 L379.00,1078.72 L380.00,1078.91 L381.00,1079.09 L382.00,1079.27 L383.00,1079.44 L384.00,1079.61 L385.00,1079.78 L386.00,1079.94 L387.00,1080.10 L388.00,1080.26 L389.00,1080.42 L390.00,1080.57 L391.00,1080.72 L392.00,1080.87 L393.00,1081.01 L394.00,1081.15 L395.00,1081.29 L396.00,1081.43 L397.00,1081.56 L398.00,1081.69 L399.00,1081.82 L400.00,1081.94 L400.60,1082.02" stroke="#D8636D" stroke-width="2.1" fill="none" stroke-linejoin="round" stroke-linecap="butt"/>
<rect x="85.00" y="897.60" width="315.60" height="221.60" fill="none" stroke="#141414" stroke-width="1.9" />
<line x1="100.20" y1="1119.20" x2="100.20" y2="1115.20" stroke="#141414" stroke-width="1.8" />
<line x1="100.20" y1="897.60" x2="100.20" y2="901.60" stroke="#141414" stroke-width="1.6" />
<line x1="175.20" y1="1119.20" x2="175.20" y2="1115.20" stroke="#141414" stroke-width="1.8" />
<line x1="175.20" y1="897.60" x2="175.20" y2="901.60" stroke="#141414" stroke-width="1.6" />
<line x1="250.20" y1="1119.20" x2="250.20" y2="1115.20" stroke="#141414" stroke-width="1.8" />
<line x1="250.20" y1="897.60" x2="250.20" y2="901.60" stroke="#141414" stroke-width="1.6" />
<line x1="325.20" y1="1119.20" x2="325.20" y2="1115.20" stroke="#141414" stroke-width="1.8" />
<line x1="325.20" y1="897.60" x2="325.20" y2="901.60" stroke="#141414" stroke-width="1.6" />
<line x1="85.00" y1="1045.40" x2="89.00" y2="1045.40" stroke="#141414" stroke-width="1.8" />
<line x1="400.60" y1="1045.40" x2="396.60" y2="1045.40" stroke="#141414" stroke-width="1.6" />
<line x1="85.00" y1="971.60" x2="89.00" y2="971.60" stroke="#141414" stroke-width="1.8" />
<line x1="400.60" y1="971.60" x2="396.60" y2="971.60" stroke="#141414" stroke-width="1.6" />
<line x1="709.20" y1="1102.04" x2="723.60" y2="1102.04" stroke="#D8636D" stroke-width="2.1" />
<path d="M723.60,1102.04 L724.60,1101.51 L725.60,1100.97 L726.60,1100.44 L727.60,1099.90 L728.60,1099.37 L729.60,1098.84 L730.60,1098.31 L731.60,1097.78 L732.60,1097.25 L733.60,1096.73 L734.60,1096.20 L735.60,1095.68 L736.60,1095.16 L737.60,1094.63 L738.60,1094.11 L739.60,1093.60 L740.60,1093.08 L741.60,1092.56 L742.60,1092.04 L743.60,1091.53 L744.60,1091.01 L745.60,1090.50 L746.60,1089.99 L747.60,1089.48 L748.60,1088.97 L749.60,1088.46 L750.60,1087.96 L751.60,1087.45 L752.60,1086.94 L753.60,1086.44 L754.60,1085.94 L755.60,1085.44 L756.60,1084.94 L757.60,1084.44 L758.60,1083.94 L759.60,1083.44 L760.60,1082.94 L761.60,1082.45 L762.60,1081.95 L763.60,1081.46 L764.60,1080.97 L765.60,1080.48 L766.60,1079.99 L767.60,1079.50 L768.60,1079.01 L769.60,1078.52 L770.60,1078.04 L771.60,1077.55 L772.60,1077.07 L773.60,1076.59 L774.60,1076.11 L775.60,1075.63 L776.60,1075.15 L777.60,1074.67 L778.60,1074.19 L779.60,1073.71 L780.60,1073.24 L781.60,1072.77 L782.60,1072.29 L783.60,1071.82 L784.60,1071.35 L785.60,1070.88 L786.60,1070.41 L787.60,1069.94 L788.60,1069.47 L789.60,1069.01 L790.60,1068.54 L791.60,1068.08 L792.60,1067.62 L793.60,1067.15 L794.60,1066.69 L795.60,1066.23 L796.60,1065.77 L797.60,1065.32 L798.60,1064.86 L799.60,1064.40 L800.60,1063.95 L801.60,1063.49 L802.60,1063.04 L803.60,1062.59 L804.60,1062.14 L805.60,1061.69 L806.60,1061.24 L807.60,1060.79 L808.60,1060.34 L809.60,1059.89 L810.60,1059.45 L811.60,1059.00 L812.60,1058.56 L813.60,1058.12 L814.60,1057.68 L815.60,1057.24 L816.60,1056.80 L817.60,1056.36 L818.60,1055.92 L819.60,1055.48 L820.60,1055.05 L821.60,1054.61 L822.60,1054.18 L823.60,1053.75 L824.60,1053.31 L825.60,1052.88 L826.60,1052.45 L827.60,1052.02 L828.60,1051.60 L829.60,1051.17 L830.60,1050.74 L831.60,1050.32 L832.60,1049.89 L833.60,1049.47 L834.60,1049.04 L835.60,1048.62 L836.60,1048.20 L837.60,1047.78 L838.60,1047.36 L839.60,1046.94 L840.60,1046.53 L841.60,1046.11 L842.60,1045.69 L843.60,1045.28 L844.60,1044.87 L845.60,1044.45 L846.60,1044.04 L847.60,1043.63 L848.60,1043.22 L849.60,1042.81 L850.60,1042.40 L851.60,1042.00 L852.60,1041.59 L853.60,1041.18 L854.60,1040.78 L855.60,1040.37 L856.60,1039.97 L857.60,1039.57 L858.60,1039.17 L859.60,1038.77 L860.60,1038.37 L861.60,1037.97 L862.60,1037.57 L863.60,1037.17 L864.60,1036.78 L865.60,1036.38 L866.60,1035.99 L867.60,1035.59 L868.60,1035.20 L869.60,1034.81 L870.60,1034.42 L871.60,1034.03 L872.60,1033.64 L873.60,1033.25 L874.60,1032.86 L875.60,1032.47 L876.60,1032.09 L877.60,1031.70 L878.60,1031.32 L879.60,1030.94 L880.60,1030.55 L881.60,1030.17 L882.60,1029.79 L883.60,1029.41 L884.60,1029.03 L885.60,1028.65 L886.60,1028.27 L887.60,1027.90 L888.60,1027.52 L889.60,1027.14 L890.60,1026.77 L891.60,1026.40 L892.60,1026.02 L893.60,1025.65 L894.60,1025.28 L895.60,1024.91 L896.60,1024.54 L897.60,1024.17 L898.60,1023.80 L899.60,1023.44 L900.60,1023.07 L901.60,1022.70 L902.60,1022.34 L903.60,1021.97 L904.60,1021.61 L905.60,1021.25 L906.60,1020.89 L907.60,1020.53 L908.60,1020.17 L909.60,1019.81 L910.60,1019.45 L911.60,1019.09 L912.60,1018.73 L913.60,1018.38 L914.60,1018.02 L915.60,1017.67 L916.60,1017.31 L917.60,1016.96 L918.60,1016.61 L919.60,1016.25 L920.60,1015.90 L921.60,1015.55 L922.60,1015.20 L923.60,1014.86 L924.60,1014.51 L925.60,1014.16 L926.60,1013.81 L927.60,1013.47 L928.60,1013.12 L929.60,1012.78 L930.60,1012.44 L931.60,1012.09 L932.60,1011.75 L933.40,1011.73" stroke="#6FA9D8" stroke-width="2.1" fill="none" stroke-linejoin="round" stroke-linecap="butt"/>
<path d="M933.40,1011.73 L934.40,1014.18 L935.40,1016.28 L936.40,1018.28 L937.40,1020.20 L938.40,1022.03 L939.40,1023.78 L940.40,1025.46 L941.40,1027.08 L942.40,1028.62 L943.40,1030.11 L944.40,1031.54 L945.40,1032.92 L946.40,1034.25 L947.40,1035.52 L948.40,1036.76 L949.40,1037.94 L950.40,1039.09 L951.40,1040.20 L952.40,1041.27 L953.40,1042.31 L954.40,1043.32 L955.40,1044.29 L956.40,1045.23 L957.40,1046.14 L958.40,1047.03 L959.40,1047.89 L960.40,1048.72 L961.40,1049.53 L962.40,1050.32 L963.40,1051.08 L964.40,1051.83 L965.40,1052.55 L966.40,1053.25 L967.40,1053.94 L968.40,1054.60 L969.40,1055.25 L970.40,1055.89 L971.40,1056.50 L972.40,1057.11 L973.40,1057.69 L974.40,1058.27 L975.40,1058.82 L976.40,1059.37 L977.40,1059.90 L978.40,1060.42 L979.40,1060.93 L980.40,1061.43 L981.40,1061.91 L982.40,1062.39 L983.40,1062.85 L984.40,1063.31 L985.40,1063.75 L986.40,1064.19 L987.40,1064.61 L988.40,1065.03 L989.40,1065.44 L990.40,1065.84 L991.40,1066.23 L992.40,1066.61 L993.40,1066.99 L994.40,1067.36 L995.40,1067.72 L996.40,1068.08 L997.40,1068.43 L998.40,1068.77 L999.40,1069.10 L1000.40,1069.43 L1001.40,1069.76 L1002.40,1070.07 L1003.40,1070.39 L1004.40,1070.69 L1005.40,1070.99 L1006.40,1071.29 L1007.40,1071.58 L1008.40,1071.86 L1009.40,1072.14 L1010.40,1072.42 L1011.40,1072.69 L1012.40,1072.96 L1013.40,1073.22 L1014.40,1073.48 L1015.40,1073.73 L1016.40,1073.98 L1017.40,1074.23 L1018.40,1074.47 L1019.40,1074.71 L1020.40,1074.94 L1021.40,1075.17 L1022.40,1075.40 L1023.40,1075.62 L1023.90,1075.73" stroke="#D8636D" stroke-width="2.1" fill="none" stroke-linejoin="round" stroke-linecap="butt"/>
<rect x="724.60" y="914.40" width="213.90" height="85.20" fill="#fff" stroke="#141414" stroke-width="1.9" />
<line x1="736.00" y1="938.00" x2="841.60" y2="938.00" stroke="#D8636D" stroke-width="2.1" />
<line x1="736.00" y1="976.00" x2="841.60" y2="976.00" stroke="#6FA9D8" stroke-width="2.1" />
<rect x="708.40" y="897.60" width="315.60" height="221.60" fill="none" stroke="#141414" stroke-width="1.9" />
<line x1="723.60" y1="1119.20" x2="723.60" y2="1115.20" stroke="#141414" stroke-width="1.8" />
<line x1="723.60" y1="897.60" x2="723.60" y2="901.60" stroke="#141414" stroke-width="1.6" />
<line x1="798.60" y1="1119.20" x2="798.60" y2="1115.20" stroke="#141414" stroke-width="1.8" />
<line x1="798.60" y1="897.60" x2="798.60" y2="901.60" stroke="#141414" stroke-width="1.6" />
<line x1="873.60" y1="1119.20" x2="873.60" y2="1115.20" stroke="#141414" stroke-width="1.8" />
<line x1="873.60" y1="897.60" x2="873.60" y2="901.60" stroke="#141414" stroke-width="1.6" />
<line x1="948.60" y1="1119.20" x2="948.60" y2="1115.20" stroke="#141414" stroke-width="1.8" />
<line x1="948.60" y1="897.60" x2="948.60" y2="901.60" stroke="#141414" stroke-width="1.6" />
<line x1="708.40" y1="1045.40" x2="712.40" y2="1045.40" stroke="#141414" stroke-width="1.8" />
<line x1="1024.00" y1="1045.40" x2="1020.00" y2="1045.40" stroke="#141414" stroke-width="1.6" />
<line x1="708.40" y1="971.60" x2="712.40" y2="971.60" stroke="#141414" stroke-width="1.8" />
<line x1="1024.00" y1="971.60" x2="1020.00" y2="971.60" stroke="#141414" stroke-width="1.6" />
<line x1="437.00" y1="575.30" x2="600.90" y2="575.30" stroke="#000" stroke-width="2.1" />
<path d="M610.90,575.30 L593.30,565.50 L596.20,575.30 L593.30,585.10 Z" stroke="none" stroke-width="1.5" fill="#000" />
<line x1="437.00" y1="1016.30" x2="600.90" y2="1016.30" stroke="#000" stroke-width="2.1" />
<path d="M610.90,1016.30 L593.30,1006.50 L596.20,1016.30 L593.30,1026.10 Z" stroke="none" stroke-width="1.5" fill="#000" />
<line x1="224.70" y1="753.00" x2="224.70" y2="865.50" stroke="#000" stroke-width="2.1" />
<path d="M224.70,875.50 L214.95,857.90 L224.70,861.00 L234.45,857.90 Z" stroke="none" stroke-width="1.5" fill="#000" />
<rect x="53.10" y="1218.30" width="945.40" height="3.70" fill="#000" stroke="none" stroke-width="1.5" />
<rect x="53.10" y="1272.20" width="945.40" height="3.60" fill="#000" stroke="none" stroke-width="1.5" />
<rect x="53.10" y="1648.30" width="945.40" height="4.20" fill="#000" stroke="none" stroke-width="1.5" />
<text x="34.00" y="47.70" font-family="Liberation Sans" font-size="29" fill="#1a1a1a" transform="matrix(1.0 0 0 1.035 0.000 -1.669)">0.5</text>
<text x="34.00" y="105.96" font-family="Liberation Sans" font-size="29" fill="#1a1a1a" transform="matrix(1.0 0 0 1.035 0.000 -3.709)">0.4</text>
<text x="35.00" y="164.22" font-family="Liberation Sans" font-size="29" fill="#1a1a1a" transform="matrix(1.0 0 0 1.035 0.000 -5.748)">0.3</text>
<text x="35.00" y="222.48" font-family="Liberation Sans" font-size="29" fill="#1a1a1a" transform="matrix(1.0 0 0 1.035 0.000 -7.787)">0.2</text>
<text x="35.00" y="280.74" font-family="Liberation Sans" font-size="29" fill="#1a1a1a" transform="matrix(1.0 0 0 1.035 0.000 -9.826)">0.1</text>
<text x="52.40" y="339.20" font-family="Liberation Sans" font-size="29" fill="#1a1a1a" transform="matrix(1.0 0 0 1.035 0.000 -11.872)">0</text>
<text x="104.60" y="358.30" font-family="Liberation Sans" font-size="29" fill="#1a1a1a" transform="matrix(1.0 0 0 1.035 0.000 -12.540)">10</text>
<text x="211.60" y="358.30" font-family="Liberation Sans" font-size="29" fill="#1a1a1a" transform="matrix(1.0 0 0 1.035 0.000 -12.540)">20</text>
<text x="319.90" y="358.30" font-family="Liberation Sans" font-size="29" fill="#1a1a1a" transform="matrix(1.0 0 0 1.035 0.000 -12.540)">30</text>
<text x="427.90" y="358.30" font-family="Liberation Sans" font-size="29" fill="#1a1a1a" transform="matrix(1.0 0 0 1.035 0.000 -12.540)">40</text>
<text x="187.40" y="398.20" font-family="Liberation Sans" font-size="29" fill="#1a1a1a" transform="matrix(1.0 0 0 1.035 0.000 -13.937)">Days of growth</text>
<text x="22.40" y="212.50" font-family="Liberation Sans" font-size="29" fill="#1a1a1a" transform="rotate(-90 22.40 212.50) matrix(1.02 0 0 1.0 -0.448 0.000)">Size (g)</text>
<text x="274.60" y="76.80" font-family="Liberation Sans" font-size="29" fill="#E3636A" transform="matrix(1.0 0 0 1.035 0.000 -2.688)">0.027g/day</text>
<text x="254.00" y="177.60" font-family="Liberation Sans" font-size="29" fill="#6FACDC" transform="matrix(1.0 0 0 1.035 0.000 -6.216)">0.0053g/day</text>
<text x="279.20" y="303.20" font-family="Liberation Sans" font-size="29" fill="#6FACDC" transform="matrix(1.0 0 0 1.035 0.000 -10.612)">0.0026g/day</text>
<text x="-0.05" y="24.35" font-family="Liberation Sans" font-size="33" fill="#1a1a1a" font-weight="bold" transform="matrix(1.0 0 0 1.035 -0.000 -0.852)">a</text>
<text x="684.40" y="278.60" font-family="Liberation Sans" font-size="29" fill="#1a1a1a" transform="matrix(1.0 0 0 1.035 0.000 -9.751)">0</text>
<text x="683.90" y="234.84" font-family="Liberation Sans" font-size="29" fill="#1a1a1a" transform="matrix(1.0 0 0 1.035 0.000 -8.219)">1</text>
<text x="684.40" y="191.08" font-family="Liberation Sans" font-size="29" fill="#1a1a1a" transform="matrix(1.0 0 0 1.035 0.000 -6.688)">2</text>
<text x="684.40" y="147.32" font-family="Liberation Sans" font-size="29" fill="#1a1a1a" transform="matrix(1.0 0 0 1.035 0.000 -5.156)">3</text>
<text x="684.40" y="103.56" font-family="Liberation Sans" font-size="29" fill="#1a1a1a" transform="matrix(1.0 0 0 1.035 0.000 -3.625)">4</text>
<text x="684.40" y="59.80" font-family="Liberation Sans" font-size="29" fill="#1a1a1a" transform="matrix(1.0 0 0 1.035 0.000 -2.093)">5</text>
<text x="797.90" y="337.50" font-family="Liberation Sans" font-size="29" fill="#1a1a1a" transform="rotate(-90 797.90 337.50)">NV</text>
<text x="877.00" y="347.00" font-family="Liberation Sans" font-size="29" fill="#1a1a1a" transform="rotate(-90 877.00 347.00)">Cold</text>
<text x="955.10" y="355.80" font-family="Liberation Sans" font-size="29" fill="#1a1a1a" transform="rotate(-90 955.10 355.80)">Warm</text>
<text x="659.50" y="299.00" font-family="Liberation Sans" font-size="29" fill="#1a1a1a" transform="rotate(-90 659.50 299.00) matrix(1.012 0 0 1.0 -7.914 0.000)">Relative NTL8 protein</text>
<text x="620.05" y="24.75" font-family="Liberation Sans" font-size="33" fill="#1a1a1a" font-weight="bold" transform="matrix(1.0 0 0 1.035 0.000 -0.866)">b</text>
<text x="48.00" y="454.80" font-family="Liberation Sans" font-size="29" fill="#1a1a1a" transform="matrix(1.0 0 0 1.035 0.000 -15.918)">60</text>
<text x="48.50" y="528.60" font-family="Liberation Sans" font-size="29" fill="#1a1a1a" transform="matrix(1.0 0 0 1.035 0.000 -18.501)">40</text>
<text x="48.00" y="602.40" font-family="Liberation Sans" font-size="29" fill="#1a1a1a" transform="matrix(1.0 0 0 1.035 0.000 -21.084)">20</text>
<text x="58.90" y="675.80" font-family="Liberation Sans" font-size="29" fill="#1a1a1a" transform="matrix(1.0 0 0 1.035 0.000 -23.653)">0</text>
<text x="91.40" y="694.20" font-family="Liberation Sans" font-size="29" fill="#1a1a1a" transform="matrix(1.0 0 0 1.035 0.000 -24.297)">0</text>
<text x="155.00" y="694.20" font-family="Liberation Sans" font-size="29" fill="#1a1a1a" transform="matrix(1.0 0 0 1.035 0.000 -24.297)">10</text>
<text x="229.30" y="694.20" font-family="Liberation Sans" font-size="29" fill="#1a1a1a" transform="matrix(1.0 0 0 1.035 0.000 -24.297)">20</text>
<text x="304.20" y="694.20" font-family="Liberation Sans" font-size="29" fill="#1a1a1a" transform="matrix(1.0 0 0 1.035 0.000 -24.297)">30</text>
<text x="379.70" y="694.20" font-family="Liberation Sans" font-size="29" fill="#1a1a1a" transform="matrix(1.0 0 0 1.035 0.000 -24.297)">40</text>
<text x="172.20" y="730.00" font-family="Liberation Sans" font-size="29" fill="#1a1a1a" transform="matrix(1.0 0 0 1.035 0.000 -25.550)">Time (days)</text>
<text x="36.10" y="589.90" font-family="Liberation Sans" font-size="29" fill="#1a1a1a" transform="rotate(-90 36.10 589.90)">[NTL8]</text>
<text x="671.40" y="454.80" font-family="Liberation Sans" font-size="29" fill="#1a1a1a" transform="matrix(1.0 0 0 1.035 0.000 -15.918)">60</text>
<text x="671.90" y="528.60" font-family="Liberation Sans" font-size="29" fill="#1a1a1a" transform="matrix(1.0 0 0 1.035 0.000 -18.501)">40</text>
<text x="671.40" y="602.40" font-family="Liberation Sans" font-size="29" fill="#1a1a1a" transform="matrix(1.0 0 0 1.035 0.000 -21.084)">20</text>
<text x="682.30" y="675.80" font-family="Liberation Sans" font-size="29" fill="#1a1a1a" transform="matrix(1.0 0 0 1.035 0.000 -23.653)">0</text>
<text x="714.80" y="694.20" font-family="Liberation Sans" font-size="29" fill="#1a1a1a" transform="matrix(1.0 0 0 1.035 0.000 -24.297)">0</text>
<text x="778.40" y="694.20" font-family="Liberation Sans" font-size="29" fill="#1a1a1a" transform="matrix(1.0 0 0 1.035 0.000 -24.297)">10</text>
<text x="852.70" y="694.20" font-family="Liberation Sans" font-size="29" fill="#1a1a1a" transform="matrix(1.0 0 0 1.035 0.000 -24.297)">20</text>
<text x="927.60" y="694.20" font-family="Liberation Sans" font-size="29" fill="#1a1a1a" transform="matrix(1.0 0 0 1.035 0.000 -24.297)">30</text>
<text x="1003.10" y="694.20" font-family="Liberation Sans" font-size="29" fill="#1a1a1a" transform="matrix(1.0 0 0 1.035 0.000 -24.297)">40</text>
<text x="795.60" y="730.00" font-family="Liberation Sans" font-size="29" fill="#1a1a1a" transform="matrix(1.0 0 0 1.035 0.000 -25.550)">Time (days)</text>
<text x="659.50" y="589.90" font-family="Liberation Sans" font-size="29" fill="#1a1a1a" transform="rotate(-90 659.50 589.90)">[NTL8]</text>
<text x="48.00" y="907.40" font-family="Liberation Sans" font-size="29" fill="#1a1a1a" transform="matrix(1.0 0 0 1.035 0.000 -31.759)">60</text>
<text x="48.50" y="981.20" font-family="Liberation Sans" font-size="29" fill="#1a1a1a" transform="matrix(1.0 0 0 1.035 0.000 -34.342)">40</text>
<text x="48.00" y="1055.00" font-family="Liberation Sans" font-size="29" fill="#1a1a1a" transform="matrix(1.0 0 0 1.035 0.000 -36.925)">20</text>
<text x="58.90" y="1128.40" font-family="Liberation Sans" font-size="29" fill="#1a1a1a" transform="matrix(1.0 0 0 1.035 0.000 -39.494)">0</text>
<text x="91.40" y="1146.80" font-family="Liberation Sans" font-size="29" fill="#1a1a1a" transform="matrix(1.0 0 0 1.035 0.000 -40.138)">0</text>
<text x="155.00" y="1146.80" font-family="Liberation Sans" font-size="29" fill="#1a1a1a" transform="matrix(1.0 0 0 1.035 0.000 -40.138)">10</text>
<text x="229.30" y="1146.80" font-family="Liberation Sans" font-size="29" fill="#1a1a1a" transform="matrix(1.0 0 0 1.035 0.000 -40.138)">20</text>
<text x="304.20" y="1146.80" font-family="Liberation Sans" font-size="29" fill="#1a1a1a" transform="matrix(1.0 0 0 1.035 0.000 -40.138)">30</text>
<text x="379.70" y="1146.80" font-family="Liberation Sans" font-size="29" fill="#1a1a1a" transform="matrix(1.0 0 0 1.035 0.000 -40.138)">40</text>
<text x="172.20" y="1182.60" font-family="Liberation Sans" font-size="29" fill="#1a1a1a" transform="matrix(1.0 0 0 1.035 0.000 -41.391)">Time (days)</text>
<text x="36.10" y="1042.50" font-family="Liberation Sans" font-size="29" fill="#1a1a1a" transform="rotate(-90 36.10 1042.50)">[NTL8]</text>
<text x="850.90" y="948.30" font-family="Liberation Sans" font-size="29" fill="#1a1a1a" transform="matrix(1.0 0 0 1.035 0.000 -33.190)">Warm</text>
<text x="850.00" y="986.40" font-family="Liberation Sans" font-size="29" fill="#1a1a1a" transform="matrix(1.0 0 0 1.035 0.000 -34.524)">Cold</text>
<text x="671.40" y="907.40" font-family="Liberation Sans" font-size="29" fill="#1a1a1a" transform="matrix(1.0 0 0 1.035 0.000 -31.759)">60</text>
<text x="671.90" y="981.20" font-family="Liberation Sans" font-size="29" fill="#1a1a1a" transform="matrix(1.0 0 0 1.035 0.000 -34.342)">40</text>
<text x="671.40" y="1055.00" font-family="Liberation Sans" font-size="29" fill="#1a1a1a" transform="matrix(1.0 0 0 1.035 0.000 -36.925)">20</text>
<text x="682.30" y="1128.40" font-family="Liberation Sans" font-size="29" fill="#1a1a1a" transform="matrix(1.0 0 0 1.035 0.000 -39.494)">0</text>
<text x="714.80" y="1146.80" font-family="Liberation Sans" font-size="29" fill="#1a1a1a" transform="matrix(1.0 0 0 1.035 0.000 -40.138)">0</text>
<text x="778.40" y="1146.80" font-family="Liberation Sans" font-size="29" fill="#1a1a1a" transform="matrix(1.0 0 0 1.035 0.000 -40.138)">10</text>
<text x="852.70" y="1146.80" font-family="Liberation Sans" font-size="29" fill="#1a1a1a" transform="matrix(1.0 0 0 1.035 0.000 -40.138)">20</text>
<text x="927.60" y="1146.80" font-family="Liberation Sans" font-size="29" fill="#1a1a1a" transform="matrix(1.0 0 0 1.035 0.000 -40.138)">30</text>
<text x="1003.10" y="1146.80" font-family="Liberation Sans" font-size="29" fill="#1a1a1a" transform="matrix(1.0 0 0 1.035 0.000 -40.138)">40</text>
<text x="795.60" y="1182.60" font-family="Liberation Sans" font-size="29" fill="#1a1a1a" transform="matrix(1.0 0 0 1.035 0.000 -41.391)">Time (days)</text>
<text x="659.50" y="1042.50" font-family="Liberation Sans" font-size="29" fill="#1a1a1a" transform="rotate(-90 659.50 1042.50)">[NTL8]</text>
<text x="0.55" y="444.25" font-family="Liberation Sans" font-size="33" fill="#1a1a1a" font-weight="bold" transform="matrix(1.0 0 0 1.035 0.000 -15.549)">c</text>
<text x="620.20" y="443.90" font-family="Liberation Sans" font-size="33" fill="#1a1a1a" font-weight="bold" transform="matrix(1.0 0 0 1.035 0.000 -15.536)">d</text>
<text x="0.65" y="886.70" font-family="Liberation Sans" font-size="33" fill="#1a1a1a" font-weight="bold" transform="matrix(1.0 0 0 1.035 0.000 -31.034)">e</text>
<text x="620.60" y="886.30" font-family="Liberation Sans" font-size="33" fill="#1a1a1a" font-weight="bold" transform="matrix(1.0 0 0 1.035 0.000 -31.020)">f</text>
<text x="1.10" y="1229.00" font-family="Liberation Sans" font-size="33" fill="#1a1a1a" font-weight="bold" transform="matrix(1.0 0 0 1.035 0.000 -43.015)">g</text>
<text x="451.00" y="527.20" font-family="Liberation Sans" font-size="29" fill="#1a1a1a" transform="matrix(1.0 0 0 1.035 0.000 -18.452)">Slowdown</text>
<text x="451.00" y="561.00" font-family="Liberation Sans" font-size="29" fill="#1a1a1a" transform="matrix(1.0 0 0 1.035 0.000 -19.635)">growth</text>
<text x="451.00" y="968.20" font-family="Liberation Sans" font-size="29" fill="#1a1a1a" transform="matrix(1.0 0 0 1.035 0.000 -33.887)">Slowdown</text>
<text x="451.00" y="1002.00" font-family="Liberation Sans" font-size="29" fill="#1a1a1a" transform="matrix(1.0 0 0 1.035 0.000 -35.070)">growth</text>
<text x="239.00" y="793.00" font-family="Liberation Sans" font-size="29" fill="#1a1a1a" transform="matrix(1.0 0 0 1.035 0.000 -27.755)">Decrease</text>
<text x="239.00" y="827.40" font-family="Liberation Sans" font-size="29" fill="#1a1a1a" transform="matrix(1.0 0 0 1.035 0.000 -28.959)">production</text>
<text x="65.80" y="1256.80" font-family="Liberation Sans" font-size="25.0" fill="#000" textLength="119.44" lengthAdjust="spacingAndGlyphs">Parameter</text>
<text x="216.40" y="1256.80" font-family="Liberation Sans" font-size="25.0" fill="#000" textLength="62.4" lengthAdjust="spacingAndGlyphs">Value</text>
<text x="398.00" y="1256.80" font-family="Liberation Sans" font-size="25.0" fill="#000" textLength="60.35" lengthAdjust="spacingAndGlyphs">Units</text>
<text x="650.30" y="1256.80" font-family="Liberation Sans" font-size="25.0" fill="#000" textLength="105.27" lengthAdjust="spacingAndGlyphs">Based on</text>
<text x="215.20" y="1320.60" font-family="Liberation Sans" font-size="25.0" fill="#000" textLength="77.62" lengthAdjust="spacingAndGlyphs">0.0274</text>
<text x="215.20" y="1385.00" font-family="Liberation Sans" font-size="25.0" fill="#000" textLength="78.64" lengthAdjust="spacingAndGlyphs">0.0548</text>
<text x="215.20" y="1478.00" font-family="Liberation Sans" font-size="25.0" fill="#000" textLength="49.65" lengthAdjust="spacingAndGlyphs">0.25</text>
<text x="215.20" y="1577.60" font-family="Liberation Sans" font-size="25.0" fill="#000" textLength="34.63" lengthAdjust="spacingAndGlyphs">0.5</text>
<text x="215.20" y="1635.60" font-family="Liberation Sans" font-size="25.0" fill="#000" textLength="116.45" lengthAdjust="spacingAndGlyphs">0 or 0.009</text>
<text x="398.00" y="1320.60" font-family="Liberation Sans" font-size="25.0" fill="#000" textLength="59.18" lengthAdjust="spacingAndGlyphs">g day</text>
<text x="399.00" y="1385.00" font-family="Liberation Sans" font-size="25.0" fill="#000" textLength="13.11" lengthAdjust="spacingAndGlyphs">g</text>
<text x="398.60" y="1461.20" font-family="Liberation Sans" font-size="25.0" fill="#000" textLength="161.47" lengthAdjust="spacingAndGlyphs">arbitrary units</text>
<text x="399.00" y="1494.00" font-family="Liberation Sans" font-size="25.0" fill="#000" textLength="91.59" lengthAdjust="spacingAndGlyphs">(au) day</text>
<text x="398.50" y="1577.90" font-family="Liberation Sans" font-size="25.0" fill="#000" textLength="27.87" lengthAdjust="spacingAndGlyphs">au</text>
<text x="398.50" y="1635.80" font-family="Liberation Sans" font-size="25.0" fill="#000" textLength="40.0" lengthAdjust="spacingAndGlyphs">day</text>
<text x="650.40" y="1321.00" font-family="Liberation Sans" font-size="25.0" fill="#000" textLength="81.98" lengthAdjust="spacingAndGlyphs">Panel a</text>
<text x="649.80" y="1442.40" font-family="Liberation Sans" font-size="25.0" fill="#000" textLength="278.51" lengthAdjust="spacingAndGlyphs">Match to computational</text>
<text x="651.80" y="1478.70" font-family="Liberation Sans" font-size="25.0" fill="#000" textLength="273.24" lengthAdjust="spacingAndGlyphs">where equivalent rate is</text>
<text x="650.80" y="1515.00" font-family="Liberation Sans" font-size="25.0" fill="#000" textLength="160.42" lengthAdjust="spacingAndGlyphs">equal to 1 day</text>
<text x="461.00" y="1312.20" font-family="Liberation Sans" font-size="16.2" fill="#000" textLength="13.14" lengthAdjust="spacingAndGlyphs">-1</text>
<text x="493.20" y="1489.60" font-family="Liberation Sans" font-size="16.2" fill="#000" textLength="13.94" lengthAdjust="spacingAndGlyphs">-1</text>
<text x="441.00" y="1627.70" font-family="Liberation Sans" font-size="16.2" fill="#000" textLength="13.94" lengthAdjust="spacingAndGlyphs">-1</text>
<text x="813.00" y="1507.80" font-family="Liberation Sans" font-size="16.2" fill="#000" textLength="13.94" lengthAdjust="spacingAndGlyphs">-1</text>
<text x="651.00" y="1628.60" font-family="Liberation Sans" font-size="16.2" fill="#000" textLength="18.37" lengthAdjust="spacingAndGlyphs">11</text>
<text x="113.30" y="1319.50" font-family="Liberation Serif" font-size="30" fill="#000" font-style="italic">V</text>
<text x="130.80" y="1329.00" font-family="Liberation Serif" font-size="18.5" fill="#000" font-style="italic">g</text>
<text x="114.00" y="1383.80" font-family="Liberation Serif" font-size="30" fill="#000" font-style="italic">V</text>
<text x="129.30" y="1390.10" font-family="Liberation Serif" font-size="21.5" fill="#000">0</text>
<text x="651.20" y="1384.50" font-family="Liberation Serif" font-size="27" fill="#000">2</text>
<text x="665.30" y="1385.00" font-family="Liberation Serif" font-size="30" fill="#000" font-style="italic">V</text>
<text x="684.00" y="1395.00" font-family="Liberation Serif" font-size="18.5" fill="#000" font-style="italic">g</text>
<text x="116.00" y="1478.80" font-family="Liberation Sans" font-size="27" fill="#000" font-style="italic">α</text>
<text x="114.00" y="1580.00" font-family="Liberation Serif" font-size="29" fill="#000" font-style="italic">n</text>
<text x="130.00" y="1582.50" font-family="Liberation Serif" font-size="21.5" fill="#000">0</text>
<text x="653.20" y="1575.80" font-family="Liberation Sans" font-size="27" fill="#000">2</text>
<text x="666.80" y="1576.20" font-family="Liberation Sans" font-size="27" fill="#000" font-style="italic">α</text>
<text x="121.00" y="1636.70" font-family="Liberation Sans" font-size="27" fill="#000" font-style="italic">β</text>
</svg>
</body></html>
